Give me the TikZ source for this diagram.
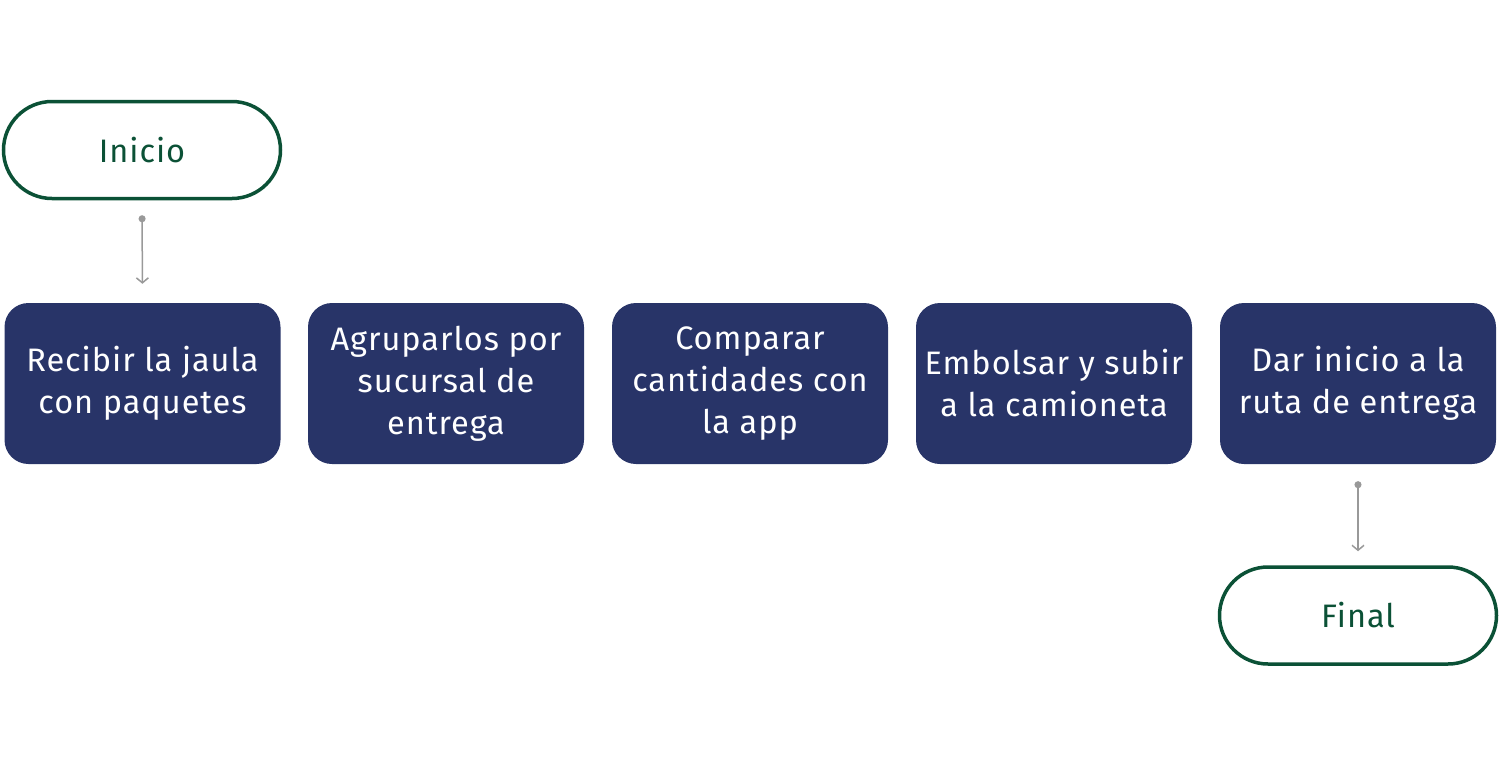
\documentclass[tikz,border=0pt]{standalone}
\usepackage{fontspec}
\setmainfont{Fira Sans}[LetterSpace=3]
\usetikzlibrary{arrows.meta,shapes.misc}
\definecolor{boxblue}{HTML}{283468}
\definecolor{termgreen}{HTML}{0B5136}
\definecolor{arrowgray}{HTML}{999999}
\tikzset{
  x=1pt, y=-1pt,
  stepbox/.style={rectangle, rounded corners=24pt, fill=boxblue, draw=none,
    minimum width=276pt, minimum height=161pt, text=white, align=center,
    font=\fontsize{32.5}{42}\selectfont, inner sep=0pt,
    execute at begin node={\vspace*{5pt}}},
  terminal/.style={rounded rectangle, draw=termgreen, line width=3.5pt, fill=white,
    minimum width=277pt, minimum height=97pt, text=termgreen,
    font=\fontsize{32.5}{42}\selectfont, inner sep=0pt},
  flow/.style={draw=arrowgray, line width=1.5pt, {Circle[length=7pt]}-{Straight Barb[length=5pt,width=12pt]}}
}
\begin{document}
\begin{tikzpicture}
\useasboundingbox (0,0) rectangle (1500,766);
\node[terminal] (inicio) at (142,150) {Inicio};
\node[stepbox] (s1) at (142.5,383.5) {Recibir la jaula\\con paquetes};
\node[stepbox] (s2) at (446,383.5) {Agruparlos por\\sucursal de\\entrega};
\node[stepbox] (s3) at (750,383.5) {Comparar\\cantidades con\\la app};
\node[stepbox] (s4) at (1054,383.5) {Embolsar y subir\\a la camioneta};
\node[stepbox] (s5) at (1358,383.5) {Dar inicio a la\\ruta de entrega};
\node[terminal] (final) at (1358,615.5) {Final};
\draw[flow, shorten <=15pt, shorten >=19pt] (inicio.south) -- (s1.north);
\draw[flow, shorten <=17pt, shorten >=14pt] (s5.south) -- (final.north);
\end{tikzpicture}
\end{document}
